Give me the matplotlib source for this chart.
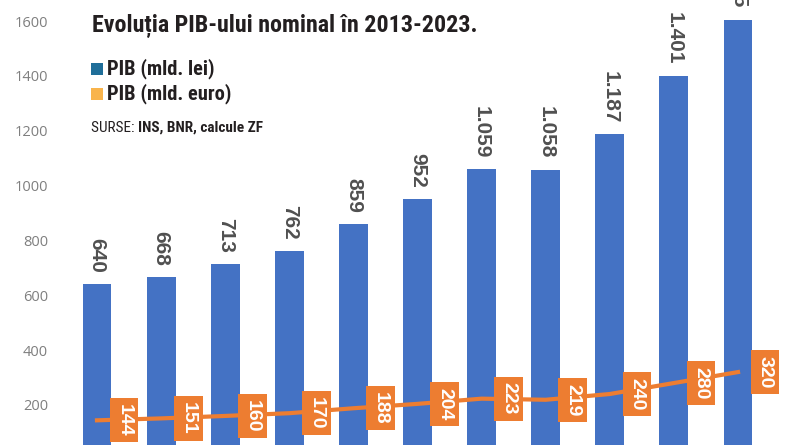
import matplotlib.pyplot as plt
from matplotlib.patches import Rectangle

# date
ani = ["2013", "2014", "2015", "2016", "2017", "2018", "2019", "2020", "2021", "2022", "2023"]
pib_lei = [640, 668, 713, 762, 859, 952, 1059, 1058, 1187, 1401, 1605]
pib_euro = [144, 151, 160, 170, 188, 204, 223, 219, 240, 280, 320]
yticks = [200, 400, 600, 800, 1000, 1200, 1400, 1600]

BLUE = "#4472C4"
ORANGE = "#ED7D31"
NARROW = ["Roboto Condensed", "DejaVu Sans"]

fig = plt.figure(figsize=(8, 4.45), dpi=100)
ax = fig.add_axes([55 / 800, 0, 745 / 800, 1])

x = list(range(len(ani)))
bars = ax.bar(x, pib_lei, width=0.45, color=BLUE, zorder=2)
ax.plot(x, pib_euro, color=ORANGE, lw=3, zorder=3)

ax.set_xlim(-0.655, 10.967)
ax.set_ylim(54, 1677)
ax.set_yticks(yticks)
ax.set_yticklabels([str(t) for t in yticks], color="#7f7f7f", fontsize=10.5,
                   family=["Open Sans", "DejaVu Sans"])
ax.tick_params(axis="y", length=0, pad=5)
ax.set_xticks([])
for s in ax.spines.values():
    s.set_visible(False)

# etichete bare
for xi, v in zip(x, pib_lei):
    txt = f"{v:,}".replace(",", ".")
    ax.annotate(txt, (xi, v), xytext=(0, 8), textcoords="offset points",
                rotation=270, ha="center", va="bottom", fontsize=15,
                fontweight="bold", color="#505050",
                family=["Liberation Sans", "DejaVu Sans"], zorder=4)

# etichete linie
for xi, v in zip(x, pib_euro):
    ax.annotate(str(v), (xi, v), xytext=(19.5, 0), textcoords="offset points",
                rotation=270, ha="center", va="center", fontsize=14,
                fontweight="bold", color="white",
                family=["Liberation Sans", "DejaVu Sans"], zorder=5,
                bbox=dict(boxstyle="square,pad=0.3", fc=ORANGE, ec="none"))

# titlu si legenda
fig.text(92 / 800, 1 - 26 / 445, "Evoluția PIB-ului nominal în 2013-2023.",
         fontsize=17.3, fontweight="bold", color="#231f20", family=NARROW,
         va="center", ha="left")

fig.patches.append(Rectangle((91 / 800, 1 - 75 / 445), 12 / 800, 12 / 445,
                             transform=fig.transFigure, fc="#1f6e99", ec="none"))
fig.patches.append(Rectangle((91 / 800, 1 - 100 / 445), 12 / 800, 12 / 445,
                             transform=fig.transFigure, fc="#f9b44c", ec="none"))
fig.text(107 / 800, 1 - 69 / 445, "PIB (mld. lei)", fontsize=14.8, fontweight="bold",
         color="#231f20", family=NARROW, va="center")
fig.text(107 / 800, 1 - 94 / 445, "PIB (mld. euro)", fontsize=14.8, fontweight="bold",
         color="#231f20", family=NARROW, va="center")
t_surse = fig.text(91 / 800, 1 - 128 / 445, "SURSE: ", fontsize=11, color="#231f20",
                   family=NARROW, va="center")
fig.canvas.draw()
bb = t_surse.get_window_extent()
fig.text(bb.x1 / 800, 1 - 128 / 445, "INS, BNR, calcule ZF", fontsize=11,
         fontweight="bold", color="#231f20", family=NARROW, va="center")

fig.savefig("out.png", dpi=100)
